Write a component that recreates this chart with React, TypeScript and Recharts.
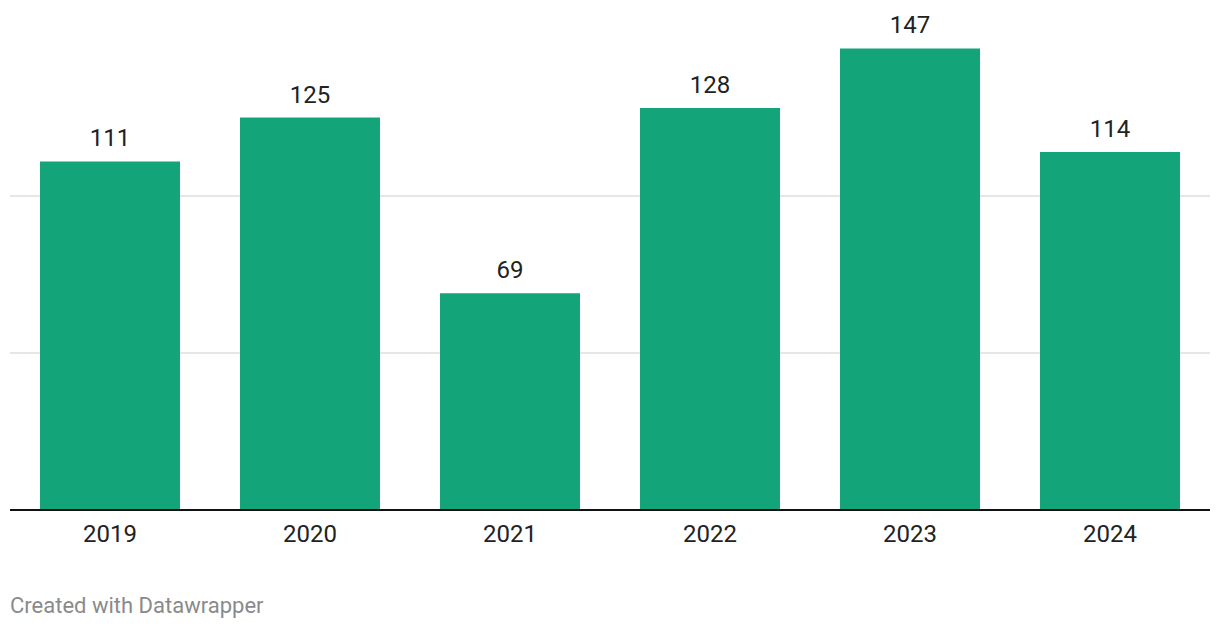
import { BarChart, Bar, XAxis, YAxis, CartesianGrid, LabelList } from "recharts";

const years = ["2019", "2020", "2021", "2022", "2023", "2024"];
const counts = [111, 125, 69, 128, 147, 114];
const gridValues = [50, 100];

const data = years.map((year, i) => ({ year, count: counts[i] }));

const FONT = "Roboto, 'Noto Sans', sans-serif";

export default function App() {
  return (
    <div
      style={{
        position: "absolute",
        left: 0,
        top: 0,
        width: 1220,
        height: 630,
        background: "#fff",
        fontFamily: FONT,
      }}
    >
      <BarChart
        width={1220}
        height={630}
        data={data}
        margin={{ top: 39, right: 10, bottom: 80, left: 10 }}
        barCategoryGap="15%"
      >
        {/* light gridlines at 50 and 100 only, drawn under the bars */}
        <CartesianGrid
          vertical={false}
          horizontalValues={gridValues}
          stroke="#e6e6e6"
          strokeWidth={2}
        />
        <YAxis hide domain={[0, 150]} />
        <XAxis
          dataKey="year"
          height={40}
          tickLine={false}
          tickSize={0}
          tickMargin={15}
          axisLine={{ stroke: "#111", strokeWidth: 2 }}
          tick={{ fill: "#222", fontSize: 24, fontFamily: FONT }}
        />
        <Bar dataKey="count" fill="#13a479" isAnimationActive={false}>
          <LabelList
            dataKey="count"
            position="top"
            offset={15}
            fill="#222"
            fontSize={24}
            fontFamily={FONT}
          />
        </Bar>
      </BarChart>
      <div
        style={{
          position: "absolute",
          left: 10,
          top: 595,
          fontSize: 22,
          lineHeight: "22px",
          color: "#8a8a8a",
        }}
      >
        Created with Datawrapper
      </div>
    </div>
  );
}
